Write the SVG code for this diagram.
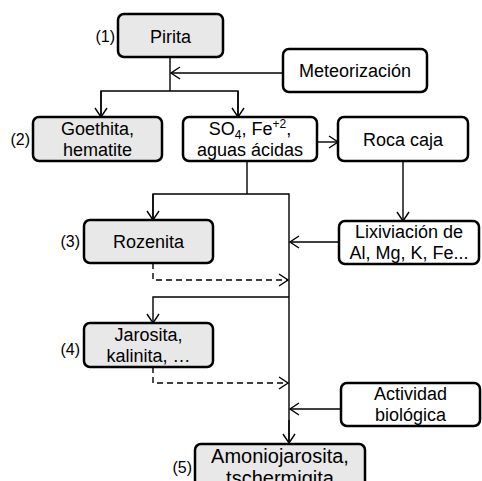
<svg xmlns="http://www.w3.org/2000/svg" width="482" height="481" viewBox="0 0 482 481">
<defs>
<marker id="arr" markerWidth="12" markerHeight="14" refX="10" refY="7" orient="auto" markerUnits="userSpaceOnUse">
<path d="M1,1 L10,7 L1,13" fill="none" stroke="#000" stroke-width="1.4"/>
</marker>
<style>
.box{stroke:#000;stroke-width:2.5;}
.g{fill:#e8e8e8;}
.w{fill:#fff;}
.t{font-family:"Liberation Sans",Arial,sans-serif;font-size:18px;fill:#000;text-anchor:middle;}
.big{font-size:20px;}
.n{font-family:"Liberation Sans",Arial,sans-serif;font-size:16px;fill:#000;text-anchor:end;}
.c{fill:none;stroke:#000;stroke-width:1.4;}
.d{stroke-dasharray:6,4;}
</style>
</defs>
<rect width="482" height="481" fill="#fff"/>
<g id="connectors">
<line class="c" x1="170" y1="57" x2="170" y2="91"/>
<line class="c" x1="283" y1="73" x2="171" y2="73" marker-end="url(#arr)"/>
<polyline class="c" points="101,117 101,91 238,91 238,117"/>
<line class="c" x1="101" y1="91" x2="101" y2="117" marker-end="url(#arr)"/>
<line class="c" x1="238" y1="91" x2="238" y2="117" marker-end="url(#arr)"/>
<line class="c" x1="317" y1="142" x2="338" y2="142" marker-end="url(#arr)"/>
<line class="c" x1="403" y1="161" x2="403" y2="221" marker-end="url(#arr)"/>
<polyline class="c" points="247,161 247,194"/>
<polyline class="c" points="153,220 153,194 289,194 289,443"/>
<line class="c" x1="153" y1="194" x2="153" y2="220" marker-end="url(#arr)"/>
<line class="c" x1="289" y1="420" x2="289" y2="443" marker-end="url(#arr)"/>
<line class="c" x1="339" y1="242" x2="290" y2="242" marker-end="url(#arr)"/>
<polyline class="c d" points="153,263 153,280 288,280" marker-end="url(#arr)"/>
<polyline class="c" points="289,297 153,297 153,323" marker-end="url(#arr)"/>
<polyline class="c d" points="153,367 153,383 288,383" marker-end="url(#arr)"/>
<line class="c" x1="341" y1="409" x2="290" y2="409" marker-end="url(#arr)"/>
</g>
<g id="pirita">
<rect class="box g" x="118" y="14" width="105" height="43" rx="6"/>
<text class="t" x="170.5" y="43">Pirita</text>
<text class="n" x="115" y="42">(1)</text>
</g>
<g id="meteorizacion">
<rect class="box w" x="283" y="49" width="144" height="43" rx="6"/>
<text class="t" x="355" y="77">Meteorización</text>
</g>
<g id="goethita">
<rect class="box g" x="33" y="117" width="129" height="44" rx="6"/>
<text class="t" x="97.5" y="135">Goethita,</text>
<text class="t" x="97.5" y="156">hematite</text>
<text class="n" x="30" y="145">(2)</text>
</g>
<g id="so4">
<rect class="box w" x="183" y="117" width="134" height="44" rx="6"/>
<text class="t" x="250" y="135">SO<tspan font-size="12" dy="4">4</tspan><tspan dy="-4">, Fe</tspan><tspan font-size="12" dy="-7">+2</tspan><tspan dy="7">,</tspan></text>
<text class="t" x="250" y="156">aguas ácidas</text>
</g>
<g id="rocacaja">
<rect class="box w" x="338" y="117" width="130" height="44" rx="6"/>
<text class="t" x="403" y="145.5">Roca caja</text>
</g>
<g id="lixiviacion">
<rect class="box w" x="339" y="221" width="140" height="43" rx="6"/>
<text class="t" x="409" y="238">Lixiviación de</text>
<text class="t" x="409" y="259">Al, Mg, K, Fe...</text>
</g>
<g id="rozenita">
<rect class="box g" x="84" y="220" width="129" height="43" rx="6"/>
<text class="t" x="148.5" y="248">Rozenita</text>
<text class="n" x="80" y="247">(3)</text>
</g>
<g id="jarosita">
<rect class="box g" x="84" y="323" width="129" height="44" rx="6"/>
<text class="t" x="148.5" y="341">Jarosita,</text>
<text class="t" x="148.5" y="362">kalinita, …</text>
<text class="n" x="80" y="355">(4)</text>
</g>
<g id="actividad">
<rect class="box w" x="341" y="383" width="139" height="43" rx="6"/>
<text class="t" x="410.5" y="400">Actividad</text>
<text class="t" x="410.5" y="421">biológica</text>
</g>
<g id="amoniojarosita">
<rect class="box g" x="195" y="444" width="170" height="48" rx="6"/>
<text class="t big" x="280" y="463">Amoniojarosita,</text>
<text class="t big" x="280" y="485">tschermigita</text>
<text class="n" x="192" y="473">(5)</text>
</g>
</svg>
